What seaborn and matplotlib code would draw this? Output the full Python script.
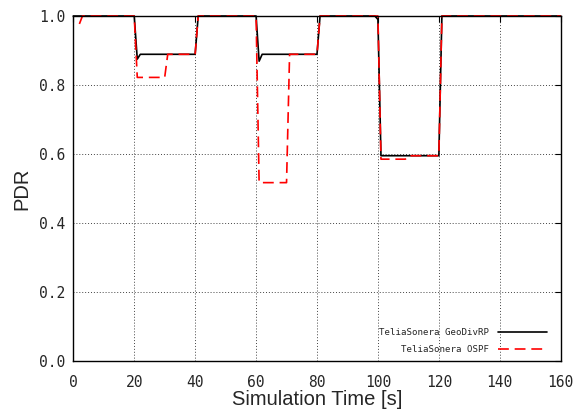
import matplotlib
matplotlib.use("Agg")
import matplotlib.pyplot as plt
import seaborn as sns
import pandas as pd

# Data
geo_t = [0, 20, 21, 22, 40, 41, 60, 61, 62, 80, 81, 99, 100, 101, 120, 121, 160]
geo_v = [1.0, 1.0, 0.875, 0.889, 0.889, 1.0, 1.0, 0.869, 0.889, 0.889, 1.0, 1.0, 0.99, 0.595, 0.595, 1.0, 1.0]

ospf_t = [2, 3, 20, 21, 30, 31, 40, 41, 60, 61, 70, 71, 80, 81, 100, 101, 109, 110, 120, 121, 160]
ospf_v = [0.977, 1.0, 1.0, 0.822, 0.822, 0.889, 0.889, 1.0, 1.0, 0.517, 0.517, 0.889, 0.889, 1.0, 1.0,
          0.585, 0.585, 0.595, 0.595, 1.0, 1.0]

series_names = ["TeliaSonera GeoDivRP", "TeliaSonera OSPF"]
x_ticks = [0, 20, 40, 60, 80, 100, 120, 140, 160]
y_ticks = [0.0, 0.2, 0.4, 0.6, 0.8, 1.0]

df = pd.concat([
    pd.DataFrame({"t": geo_t, "pdr": geo_v, "series": series_names[0]}),
    pd.DataFrame({"t": ospf_t, "pdr": ospf_v, "series": series_names[1]}),
])

sns.set_style("white")
fig = plt.figure(figsize=(5.8, 4.16), dpi=100)
ax = fig.add_axes([73.3/580, 1-361/416, (560.7-73.3)/580, (361-16)/416])

sns.lineplot(data=df, x="t", y="pdr", hue="series", style="series",
             palette={series_names[0]: "black", series_names[1]: "red"},
             dashes={series_names[0]: "", series_names[1]: (6.5, 3.5)},
             linewidth=1.2, sort=False, estimator=None, ax=ax, legend=True)
for ln in ax.get_lines():
    ln.set_clip_on(False)

ax.set_xlim(0, 160)
ax.set_ylim(0, 1.0)
ax.set_xticks(x_ticks)
ax.set_yticks(y_ticks)
ax.set_xticklabels([str(v) for v in x_ticks], family="DejaVu Sans Mono", fontsize=10.5)
ax.set_yticklabels([f"{v:.1f}" for v in y_ticks], family="DejaVu Sans Mono", fontsize=10.5)
ax.tick_params(direction="in", length=4, width=0.8, top=True, right=True, color="black")
ax.tick_params(axis="x", pad=10)
ax.tick_params(axis="y", pad=6)

ax.grid(True, color="#444444", linestyle=(0, (1, 2)), linewidth=0.7)
for s in ax.spines.values():
    s.set_color("black")
    s.set_linewidth(1.0)

ax.set_xlabel("Simulation Time [s]", family="Liberation Sans", fontsize=14.5, labelpad=0)
ax.set_ylabel("PDR", family="Liberation Sans", fontsize=14.5, labelpad=5)

handles, labels = ax.get_legend_handles_labels()
leg = ax.legend(handles, labels, loc="lower right",
                bbox_to_anchor=(1 - 13.7/487.4, 7/345), borderaxespad=0, borderpad=0,
                frameon=False, markerfirst=False, handlelength=5.4, handletextpad=0.9,
                labelspacing=0.9, prop={"family": "DejaVu Sans Mono", "size": 6.6})

fig.savefig("out.png", dpi=100)
